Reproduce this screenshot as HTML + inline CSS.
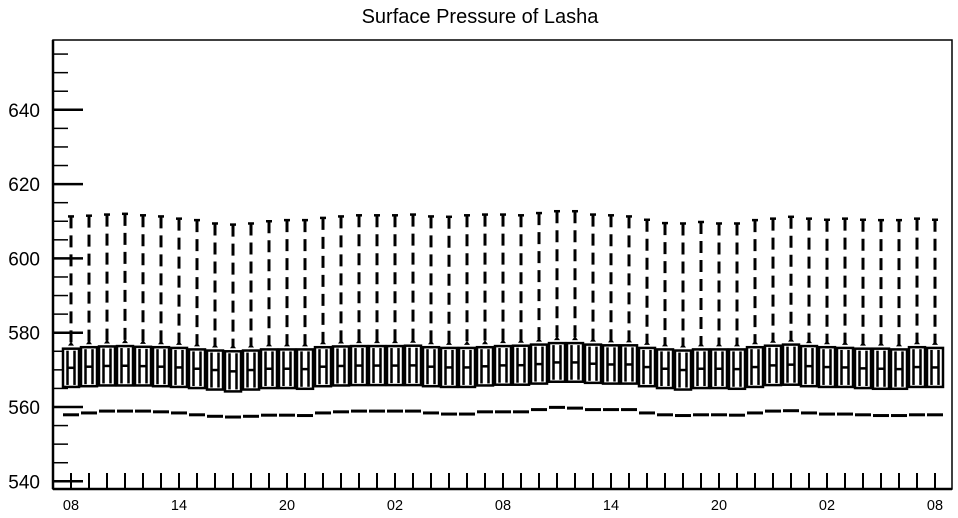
<!DOCTYPE html>
<html><head><meta charset="utf-8"><style>
html,body{margin:0;padding:0;background:#fff;}
svg{display:block;font-family:"Liberation Sans",sans-serif;}
</style></head><body>
<svg id="chart" width="958" height="518" xmlns="http://www.w3.org/2000/svg">
<text x="480" y="23" text-anchor="middle" font-size="20">Surface Pressure of Lasha</text>
<g id="axes"></g>
<g id="marks"></g>
</svg>
<script>
const xLabels = ["08","14","20","02","08","14","20","02","08"];
const yTicks = [540,560,580,600,620,640];
const upperWhisker = [611.3,611.5,611.8,612.0,611.6,611.3,610.7,610.3,609.4,609.1,609.4,610.0,610.3,610.3,610.9,611.3,611.6,611.6,611.6,611.8,611.3,611.2,611.6,611.8,
611.8,611.6,612.2,612.7,612.7,611.8,611.6,611.3,610.4,609.5,609.4,609.8,609.4,609.4,610.3,610.7,611.2,610.7,610.4,610.7,610.4,610.3,610.3,610.7,610.4];
const boxTop = [575.7,576.1,576.3,576.4,576.2,576.1,575.9,575.5,575.2,575.0,575.2,575.5,575.5,575.5,576.1,576.3,576.4,576.4,576.4,576.5,576.1,575.9,575.9,576.1,
576.4,576.5,576.8,577.2,577.2,576.8,576.6,576.6,575.9,575.5,575.2,575.5,575.5,575.5,576.1,576.5,576.8,576.4,576.1,575.9,575.7,575.7,575.5,576.1,575.9];
const boxBottom = [565.4,565.6,565.8,565.8,565.8,565.6,565.4,565.1,564.7,564.2,564.7,565.1,565.1,564.9,565.6,565.8,565.9,565.9,565.9,565.9,565.6,565.4,565.4,565.8,
566.0,566.0,566.3,566.8,566.8,566.5,566.3,566.3,565.6,565.1,564.7,565.1,565.1,564.9,565.4,565.9,566.0,565.6,565.4,565.4,565.1,564.9,564.9,565.4,565.4];
const lowerValue = [557.9,558.4,558.9,558.9,558.9,558.7,558.4,557.9,557.5,557.3,557.5,557.8,557.8,557.7,558.4,558.7,558.9,558.9,558.9,558.9,558.4,558.1,558.1,558.7,
558.7,558.7,559.3,559.9,559.7,559.3,559.3,559.3,558.4,557.9,557.7,557.9,557.9,557.8,558.4,558.9,559.0,558.4,558.1,558.1,557.9,557.7,557.7,557.9,557.9];

const L=53,T=40,R=952,B=489;
const X0=71, DX=18;
function xs(i){return X0+i*DX;}
function ys(v){return 407-(v-560)*3.715;}
const NS="http://www.w3.org/2000/svg";
function mk(tag,attrs,parent){const e=document.createElementNS(NS,tag);for(const k in attrs)e.setAttribute(k,attrs[k]);parent.appendChild(e);return e;}
const axes=document.getElementById('axes'), marks=document.getElementById('marks');

let f=mk('rect',{x:L,y:T,width:R-L,height:B-T,fill:'none',stroke:'#000','stroke-width':1.5},axes);


let la=mk('line',{x1:L,y1:T,x2:L,y2:B,stroke:'#000','stroke-width':2.5},axes);


let ba=mk('line',{x1:L,y1:B,x2:R,y2:B,stroke:'#000','stroke-width':2.5},axes);



for(let v=540;v<=655;v+=5){
  const major=yTicks.includes(v);
  const t=mk('line',{x1:L,y1:ys(v),x2:L+(major?30:15),y2:ys(v),stroke:'#000','stroke-width':major?2.5:1.5},axes);
  
  
}
yTicks.forEach(v=>{
  const t=mk('text',{x:40,y:ys(v)+7,'text-anchor':'end','font-size':19},axes);
  t.textContent=v;
  
  
});
const n=boxTop.length;
for(let i=0;i<n;i++){
  const t=mk('line',{x1:xs(i),y1:B,x2:xs(i),y2:B-16,stroke:'#000','stroke-width':2},axes);
  
  
}
xLabels.forEach((s,k)=>{
  const t=mk('text',{x:xs(k*6),y:510,'text-anchor':'middle','font-size':14.5},axes);
  t.textContent=s;
  
  
});

for(let i=0;i<n;i++){
  const x=xs(i), yc=ys(upperWhisker[i]), yt=ys(boxTop[i]), yb=ys(boxBottom[i]), yl=ys(lowerValue[i]);
  const g=mk('g',{},marks);
  
  
  mk('line',{x1:x-3,y1:yc,x2:x+3,y2:yc,stroke:'#000','stroke-width':2.5},g);
  mk('line',{x1:x,y1:yc,x2:x,y2:yt-4,stroke:'#000','stroke-width':3,'stroke-dasharray':'12 7'},g);
  mk('path',{d:`M${x-3} ${yt-3} L${x} ${yt-7} L${x+3} ${yt-3} Z`,fill:'#000'},g);
  mk('rect',{x:x-8,y:yt,width:16,height:yb-yt,fill:'#fff',stroke:'#000','stroke-width':2.5},g);
  const ym=(yt+yb)/2;
  mk('line',{x1:x-3.5,y1:yt+2,x2:x-3.5,y2:yb-2,stroke:'#000','stroke-width':2.5},g);
  mk('line',{x1:x+3.5,y1:yt+2,x2:x+3.5,y2:yb-2,stroke:'#000','stroke-width':2.5},g);
  mk('line',{x1:x-3.5,y1:ym,x2:x+3.5,y2:ym,stroke:'#000','stroke-width':2.5},g);
  mk('line',{x1:x-8,y1:yl,x2:x+8,y2:yl,stroke:'#000','stroke-width':3},g);
}
</script>
</body></html>
